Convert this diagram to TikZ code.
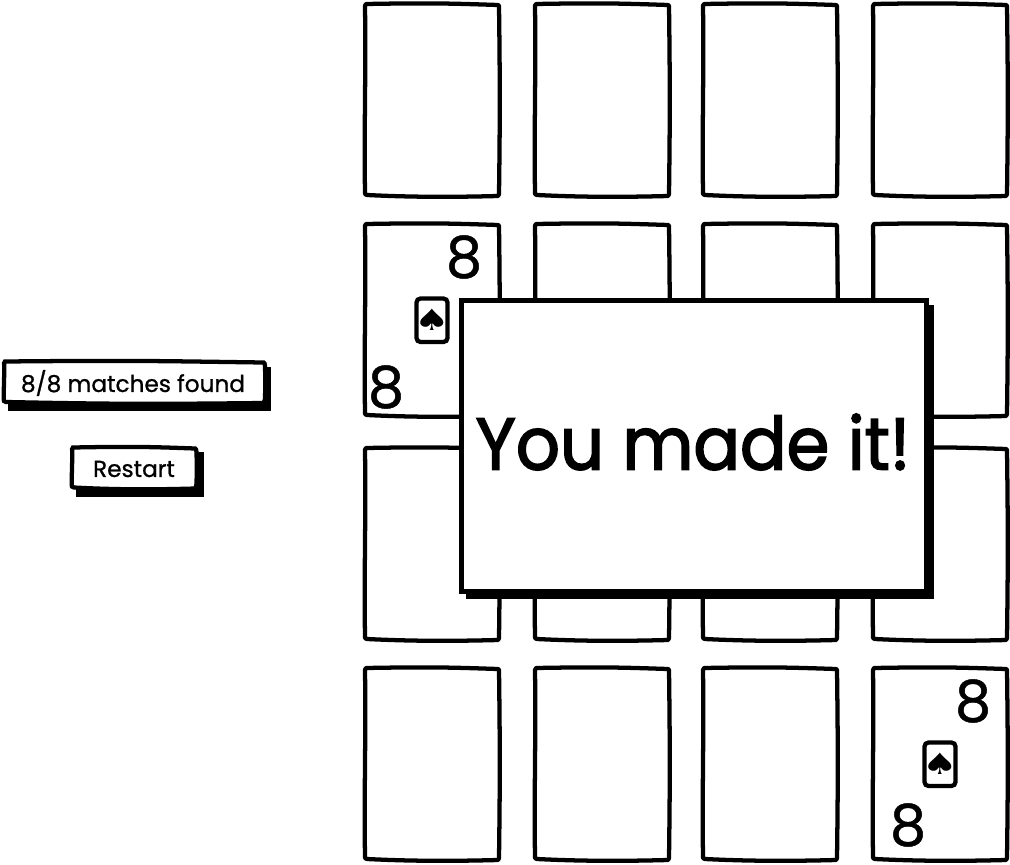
\documentclass[tikz,border=0pt]{standalone}
\usepackage{fontspec}
\setmainfont{Poppins}
\newfontfamily\symf{DejaVu Sans}
\newfontfamily\heavyf[FakeBold=2.2,FakeStretch=0.94]{Poppins}
\newfontfamily\midf[FakeBold=0.9]{Poppins}
\newcommand{\skbox}[5][]{%
 \path[#1] ({#2+1},{#3}) .. controls ({(#2+#4)/2},{#3-1.2}) and ({(#2+#4)/2+20},{#3-0.5}) .. ({#4-1},{#3+1})
  -- ({#4},{#3+2}) .. controls ({#4+1},{(#3+#5)/2-20}) and ({#4+1},{(#3+#5)/2+20}) .. ({#4},{#5-2})
  -- ({#4-1},{#5}) .. controls ({(#2+#4)/2+20},{#5+1.2}) and ({(#2+#4)/2-20},{#5+1.2}) .. ({#2+2},{#5-1})
  -- ({#2},{#5-2}) .. controls ({#2-1},{(#3+#5)/2+20}) and ({#2+1},{(#3+#5)/2-20}) .. ({#2},{#3+2}) -- cycle;}
\tikzset{x=0.75pt,y=-0.75pt,
 cardbox/.style={draw=black,fill=white,line width=3.2pt,line join=round},
 panelbox/.style={draw=black,fill=white,line width=3.2pt,line join=miter},
 shadowbox/.style={fill=black},
 pip/.style={inner sep=0pt,font=\midf\fontsize{43}{43}\selectfont},
 minicard/.style={draw=black,fill=white,line width=3.2pt,rounded corners=3pt},
 spade/.style={inner sep=0pt,font=\symf\fontsize{22}{22}\selectfont},
 label/.style={inner sep=0pt,font=\midf\fontsize{17.4}{19}\selectfont}}
\begin{document}
\begin{tikzpicture}
\useasboundingbox (0,0) rectangle (1010,864);
\foreach \cx/\cw in {365/499,535/669,703/837,873/1007}{
 \foreach \cy/\ch in {4/196,224/416,448/640,668/860}{
  \skbox[cardbox]{\cx}{\cy}{\cw}{\ch}
 }}
% revealed cards
\node[pip] (e1) at (464,257) {8};
\node[pip] (e2) at (386,387) {8};
\draw[minicard] (416.5,298.5) rectangle (447.5,342);
\node[spade] (s1) at (432,320) {\scalebox{1.35}[1]{♠}};
\node[pip] (e3) at (973,701) {8};
\node[pip] (e4) at (908,825) {8};
\draw[minicard] (924.5,742.5) rectangle (955.5,786);
\node[spade] (s2) at (940,764) {\scalebox{1.35}[1]{♠}};
% overlay
\fill[shadowbox] (466,305) rectangle (933.5,598.5);
\draw[panelbox] (461.5,300.5) rectangle (926.5,591.5);
\node[inner sep=0pt,font=\heavyf\fontsize{55}{60}\selectfont] (msg) at (693,442) {You made it!};
% status
\fill[shadowbox] (8,367) rectangle (271,411);
\skbox[panelbox]{4}{361.5}{264.5}{403}
\node[label] (st) at (133,383) {8/8 matches found};
\fill[shadowbox] (76,452) rectangle (204,497);
\skbox[panelbox]{72}{447.5}{196}{488.5}
\node[label] (rs) at (134,469) {Restart};
\end{tikzpicture}
\end{document}
